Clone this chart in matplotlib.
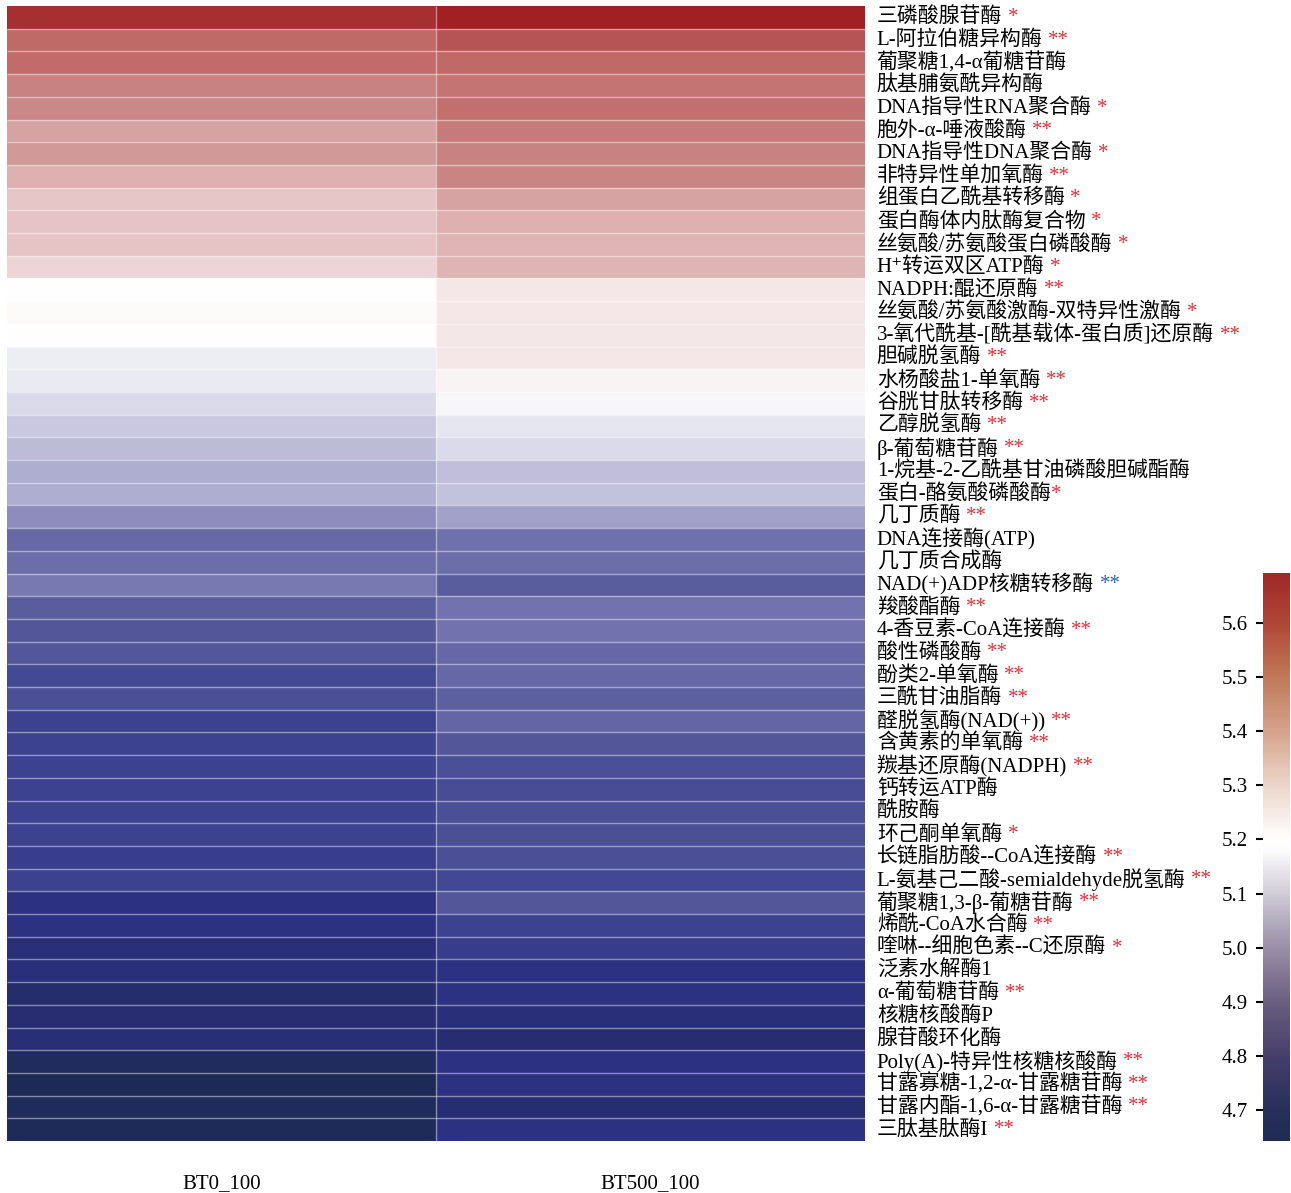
import matplotlib
matplotlib.use('Agg')
import matplotlib.pyplot as plt
import numpy as np
from matplotlib.colors import LinearSegmentedColormap, Normalize
from matplotlib.cm import ScalarMappable

plt.rcParams['font.family'] = ['Liberation Serif', 'Noto Sans CJK SC', 'DejaVu Serif']

samples = ['BT0_100', 'BT500_100']

enzymes = [
    '三磷酸腺苷酶', 'L-阿拉伯糖异构酶', '葡聚糖1,4-α葡糖苷酶', '肽基脯氨酰异构酶',
    'DNA指导性RNA聚合酶', '胞外-α-唾液酸酶', 'DNA指导性DNA聚合酶', '非特异性单加氧酶',
    '组蛋白乙酰基转移酶', '蛋白酶体内肽酶复合物', '丝氨酸/苏氨酸蛋白磷酸酶', 'H⁺转运双区ATP酶',
    'NADPH:醌还原酶', '丝氨酸/苏氨酸激酶-双特异性激酶', '3-氧代酰基-[酰基载体-蛋白质]还原酶',
    '胆碱脱氢酶', '水杨酸盐1-单氧酶', '谷胱甘肽转移酶', '乙醇脱氢酶', 'β-葡萄糖苷酶',
    '1-烷基-2-乙酰基甘油磷酸胆碱酯酶', '蛋白-酪氨酸磷酸酶', '几丁质酶', 'DNA连接酶(ATP)',
    '几丁质合成酶', 'NAD(+)ADP核糖转移酶', '羧酸酯酶', '4-香豆素-CoA连接酶', '酸性磷酸酶',
    '酚类2-单氧酶', '三酰甘油脂酶', '醛脱氢酶(NAD(+))', '含黄素的单氧酶', '羰基还原酶(NADPH)',
    '钙转运ATP酶', '酰胺酶', '环己酮单氧酶', '长链脂肪酸--CoA连接酶',
    'L-氨基己二酸-semialdehyde脱氢酶', '葡聚糖1,3-β-葡糖苷酶', '烯酰-CoA水合酶',
    '喹啉--细胞色素--C还原酶', '泛素水解酶1', 'α-葡萄糖苷酶', '核糖核酸酶P', '腺苷酸环化酶',
    'Poly(A)-特异性核糖核酸酶', '甘露寡糖-1,2-α-甘露糖苷酶', '甘露内酯-1,6-α-甘露糖苷酶',
    '三肽基肽酶I',
]

stars = [
    '*', '**', '', '', '*', '**', '*', '**', '*', '*', '*', '*',
    '**', '*', '**', '**', '**', '**', '**', '**', '', '*', '**', '',
    '', '**', '**', '**', '**', '**', '**', '**', '**', '**', '', '',
    '*', '**', '**', '**', '**', '*', '', '**', '', '', '**', '**', '**', '**',
]
star_tight = {'蛋白-酪氨酸磷酸酶'}  # star placed right against the label
blue_star_rows = {'NAD(+)ADP核糖转移酶'}

bt0 = [
    5.661, 5.535, 5.524, 5.461, 5.440, 5.377, 5.398, 5.346, 5.283, 5.293,
    5.293, 5.251, 5.168, 5.178, 5.168, 5.147, 5.141, 5.120, 5.094, 5.078,
    5.063, 5.063, 5.031, 4.979, 4.984, 5.000, 4.947, 4.937, 4.937, 4.895,
    4.910, 4.874, 4.874, 4.874, 4.874, 4.874, 4.874, 4.863, 4.874, 4.821,
    4.821, 4.800, 4.800, 4.769, 4.779, 4.795, 4.706, 4.664, 4.695, 4.674,
]
bt500 = [
    5.692, 5.587, 5.535, 5.503, 5.514, 5.482, 5.461, 5.451, 5.377, 5.346,
    5.335, 5.335, 5.215, 5.215, 5.215, 5.215, 5.188, 5.157, 5.136, 5.120,
    5.084, 5.089, 5.052, 4.989, 4.984, 4.947, 4.994, 4.994, 4.973, 4.973,
    4.958, 4.968, 4.937, 4.910, 4.905, 4.910, 4.910, 4.910, 4.890, 4.937,
    4.874, 4.858, 4.821, 4.821, 4.800, 4.779, 4.821, 4.821, 4.785, 4.821,
]

VMIN, VMAX = 4.643, 5.692
cbar_ticks = [4.7, 4.8, 4.9, 5.0, 5.1, 5.2, 5.3, 5.4, 5.5, 5.6]

# colours of the cells
cell_cmap = LinearSegmentedColormap.from_list('cells', [
    (0.00, '#1c2a52'), (0.06, '#202b5e'), (0.13, '#272d70'), (0.17, '#2c3282'),
    (0.22, '#3c4290'), (0.28, '#54589a'), (0.32, '#686aa8'), (0.37, '#8f8dbd'),
    (0.40, '#aeaed0'), (0.43, '#c9c7e0'), (0.47, '#e6e6f0'), (0.50, '#ffffff'),
    (0.55, '#f4e4e5'), (0.60, '#e9cacc'), (0.67, '#deb0b0'), (0.75, '#cc8c8c'),
    (0.85, '#c06a68'), (0.92, '#b24c4e'), (1.00, '#a02024'),
])
# colours of the legend bar
bar_cmap = LinearSegmentedColormap.from_list('bar', [
    (0.00, '#1f2a55'), (0.05, '#252f5a'), (0.15, '#463f6a'), (0.245, '#6a5f80'),
    (0.34, '#9a8ea8'), (0.436, '#d0ccd8'), (0.51, '#fbfbfb'), (0.53, '#ffffff'),
    (0.63, '#ecd4c8'), (0.72, '#d4a48c'), (0.82, '#c07858'), (0.91, '#b04838'),
    (1.00, '#a02828'),
])

W, H = 1291, 1193
fig = plt.figure(figsize=(W / 100, H / 100), dpi=100)
ax = fig.add_axes([7 / W, (H - 1141) / H, 858 / W, 1135 / H])

data = np.column_stack([bt0, bt500])
n = len(enzymes)
norm = Normalize(vmin=VMIN, vmax=VMAX)
ax.pcolormesh(np.arange(3), np.arange(n + 1), data, cmap=cell_cmap, norm=norm)
# thin light separators between cells (no outer frame)
ax.hlines(np.arange(1, n), 0, 2, colors='white', alpha=0.45, linewidth=1.0)
ax.vlines(1, 0, n, colors='white', alpha=0.45, linewidth=1.0)
ax.set_xlim(0, 2)
ax.set_ylim(n, 0)
for s in ax.spines.values():
    s.set_visible(False)

ax.set_xticks(np.arange(2) + 0.5)
ax.set_xticklabels(samples, fontsize=15)
ax.tick_params(axis='x', length=0, pad=24)
ax.set_yticks([])

for i, (name, st) in enumerate(zip(enzymes, stars)):
    lab = ax.annotate(name, xy=(1, i + 0.5), xycoords=('axes fraction', 'data'),
                      xytext=(8.5, 0), textcoords='offset points',
                      ha='left', va='center', fontsize=15, annotation_clip=False)
    if st:
        col = '#2f5fb5' if name in blue_star_rows else '#e0303a'
        gap = 0 if name in star_tight else 4
        ax.annotate(st, xy=(1, 0.5), xycoords=lab, xytext=(gap, 0),
                    textcoords='offset points', ha='left', va='center',
                    fontsize=15, color=col, annotation_clip=False)

cax = fig.add_axes([1263 / W, (H - 1141) / H, 27 / W, 568 / H])
cb = fig.colorbar(ScalarMappable(norm=norm, cmap=bar_cmap), cax=cax)
cb.outline.set_visible(False)
cb.set_ticks(cbar_ticks)
cb.set_ticklabels(['%.1f' % t for t in cbar_ticks])
cax.yaxis.set_ticks_position('left')
cax.tick_params(length=5, width=1.5, labelsize=15, pad=6)

fig.savefig('out.png', dpi=100)
